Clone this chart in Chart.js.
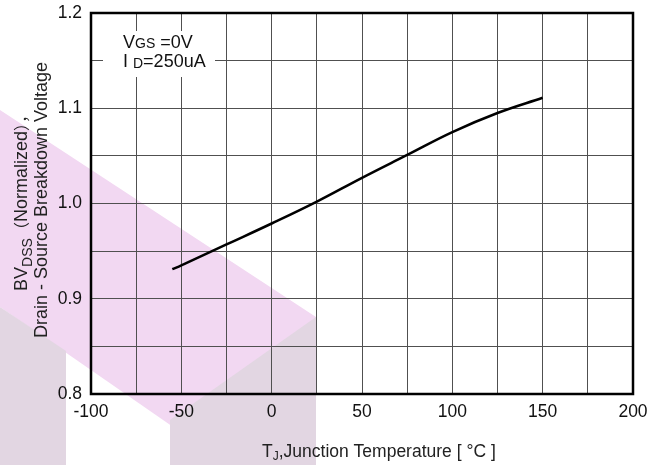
<!DOCTYPE html>
<html>
<head>
<meta charset="utf-8">
<script src="https://cdn.jsdelivr.net/npm/chart.js@4.4.1/dist/chart.umd.min.js"></script>
<style>
  html, body { margin: 0; padding: 0; background: #fff; }
  #wrap { width: 661px; height: 465px; position: relative; }
</style>
</head>
<body>
<div id="wrap"><canvas id="c" width="661" height="465"></canvas></div>
<script>
// ---- data ----
const temps = [-55, -50, -25, 0, 25, 50, 75, 100, 125, 150];
const bvdss = [0.931, 0.935, 0.957, 0.979, 1.002, 1.027, 1.051, 1.075, 1.095, 1.111];
const xTickLabels = [-100, -50, 0, 50, 100, 150, 200];
const yTickLabels = [0.8, 0.9, 1.0, 1.1, 1.2];
const annotLine1 = ['V', 'GS', ' =0V'];
const annotLine2 = ['I ', 'D', '=250uA'];
const yTitle1 = ['BV', 'DSS', '（', 'Normalized', '），'];
const yTitle2 = 'Drain - Source Breakdown Voltage';
const xTitle = ['T', 'J', ',Junction Temperature [ °C ]'];

const FONT = "'Liberation Sans', Arial, 'Noto Sans CJK SC', sans-serif";
const CJK = "'Noto Sans CJK SC', sans-serif";

const watermark = {
  id: 'watermark',
  beforeDraw(chart) {
    const ctx = chart.ctx;
    ctx.save();
    ctx.fillStyle = 'rgb(242,216,242)';
    ctx.beginPath();
    ctx.moveTo(0, 110); ctx.lineTo(316, 317); ctx.lineTo(316, 465);
    ctx.lineTo(228, 465); ctx.lineTo(0, 307); ctx.closePath();
    ctx.fill();
    ctx.fillStyle = 'rgb(226,214,226)';
    ctx.beginPath();
    ctx.moveTo(0, 307); ctx.lineTo(66, 351); ctx.lineTo(66, 465); ctx.lineTo(0, 465); ctx.closePath();
    ctx.fill();
    ctx.beginPath();
    ctx.moveTo(170, 420); ctx.lineTo(316, 317); ctx.lineTo(316, 465); ctx.lineTo(170, 465); ctx.closePath();
    ctx.fill();
    ctx.restore();
  }
};

// runs: array of [text, size, dy, family]
function drawRuns(ctx, runs, x, y, align) {
  ctx.save();
  const widths = runs.map(r => { ctx.font = r[1] + 'px ' + (r[3] || FONT); return ctx.measureText(r[0]).width; });
  const total = widths.reduce((a, b) => a + b, 0);
  let cx = align === 'right' ? x - total : (align === 'center' ? x - total / 2 : x);
  ctx.textAlign = 'left';
  ctx.textBaseline = 'alphabetic';
  runs.forEach((r, i) => {
    ctx.font = r[1] + 'px ' + (r[3] || FONT);
    ctx.fillText(r[0], cx, y + r[2]);
    cx += widths[i];
  });
  ctx.restore();
}

const decorations = {
  id: 'decorations',
  afterDatasetsDraw(chart) {
    const ctx = chart.ctx;
    const a = chart.chartArea;
    ctx.save();
    ctx.fillStyle = '#fff';
    ctx.fillRect(a.left + 12, 31, 112, 46);
    ctx.fillStyle = '#111';
    drawRuns(ctx, [[annotLine1[0], 18, 0], [annotLine1[1], 14, 0], [annotLine1[2], 18, 0]], 123, 48, 'left');
    drawRuns(ctx, [[annotLine2[0], 18, 0], [annotLine2[1], 14, 1], [annotLine2[2], 18, 0]], 123, 67, 'left');
    ctx.restore();
  },
  afterDraw(chart) {
    const ctx = chart.ctx;
    const a = chart.chartArea;
    ctx.save();
    ctx.strokeStyle = '#000';
    ctx.lineWidth = 2.5;
    ctx.strokeRect(a.left, a.top, a.right - a.left, a.bottom - a.top);
    ctx.fillStyle = '#222';
    drawRuns(ctx, [[xTitle[0], 17.5, 0], [xTitle[1], 12, 3], [xTitle[2], 17.5, 0]], 262, 457, 'left');
    ctx.save();
    ctx.translate(27, 199);
    ctx.rotate(-Math.PI / 2);
    drawRuns(ctx, [
      [yTitle1[0], 18, 0], [yTitle1[1], 14, 5], [yTitle1[2], 16, 0, CJK],
      [yTitle1[3], 18, 0], [yTitle1[4], 16, 0, CJK]
    ], 0, 0, 'center');
    ctx.restore();
    ctx.save();
    ctx.translate(47, 200);
    ctx.rotate(-Math.PI / 2);
    ctx.font = '18px ' + FONT;
    ctx.textAlign = 'center';
    ctx.textBaseline = 'alphabetic';
    ctx.fillText(yTitle2, 0, 0);
    ctx.restore();
    ctx.restore();
  }
};

new Chart(document.getElementById('c'), {
  type: 'line',
  data: {
    datasets: [{
      data: temps.map((t, i) => ({ x: t, y: bvdss[i] })),
      borderColor: '#000',
      borderWidth: 2.5,
      pointRadius: 0,
      tension: 0.4,
      fill: false
    }]
  },
  options: {
    responsive: false,
    animation: false,
    devicePixelRatio: 1,
    layout: { padding: { left: 0, top: 13, right: 28, bottom: 0 } },
    plugins: { legend: { display: false }, tooltip: { enabled: false } },
    scales: {
      x: {
        type: 'linear',
        min: -100, max: 200,
        border: { display: false },
        grid: { color: '#505050', lineWidth: 1, drawTicks: false },
        ticks: {
          stepSize: 25,
          padding: 8,
          color: '#111',
          font: { family: FONT, size: 17.5 },
          maxRotation: 0,
          autoSkip: false,
          callback: v => xTickLabels.includes(v) ? String(v) : ''
        },
        afterFit: s => { s.height = 71; s.paddingLeft = 0; s.paddingRight = 0; }
      },
      y: {
        min: 0.8, max: 1.2,
        border: { display: false },
        grid: { color: '#505050', lineWidth: 1, drawTicks: false },
        ticks: {
          stepSize: 0.05,
          padding: 9,
          color: '#111',
          font: { family: FONT, size: 17.5 },
          autoSkip: false,
          callback: v => {
            const r = Math.round(v * 100) / 100;
            return yTickLabels.some(t => Math.abs(t - r) < 1e-6) ? r.toFixed(1) : '';
          }
        },
        afterFit: s => { s.width = 91; s.paddingTop = 0; s.paddingBottom = 0; }
      }
    }
  },
  plugins: [watermark, decorations]
});
</script>
</body>
</html>
